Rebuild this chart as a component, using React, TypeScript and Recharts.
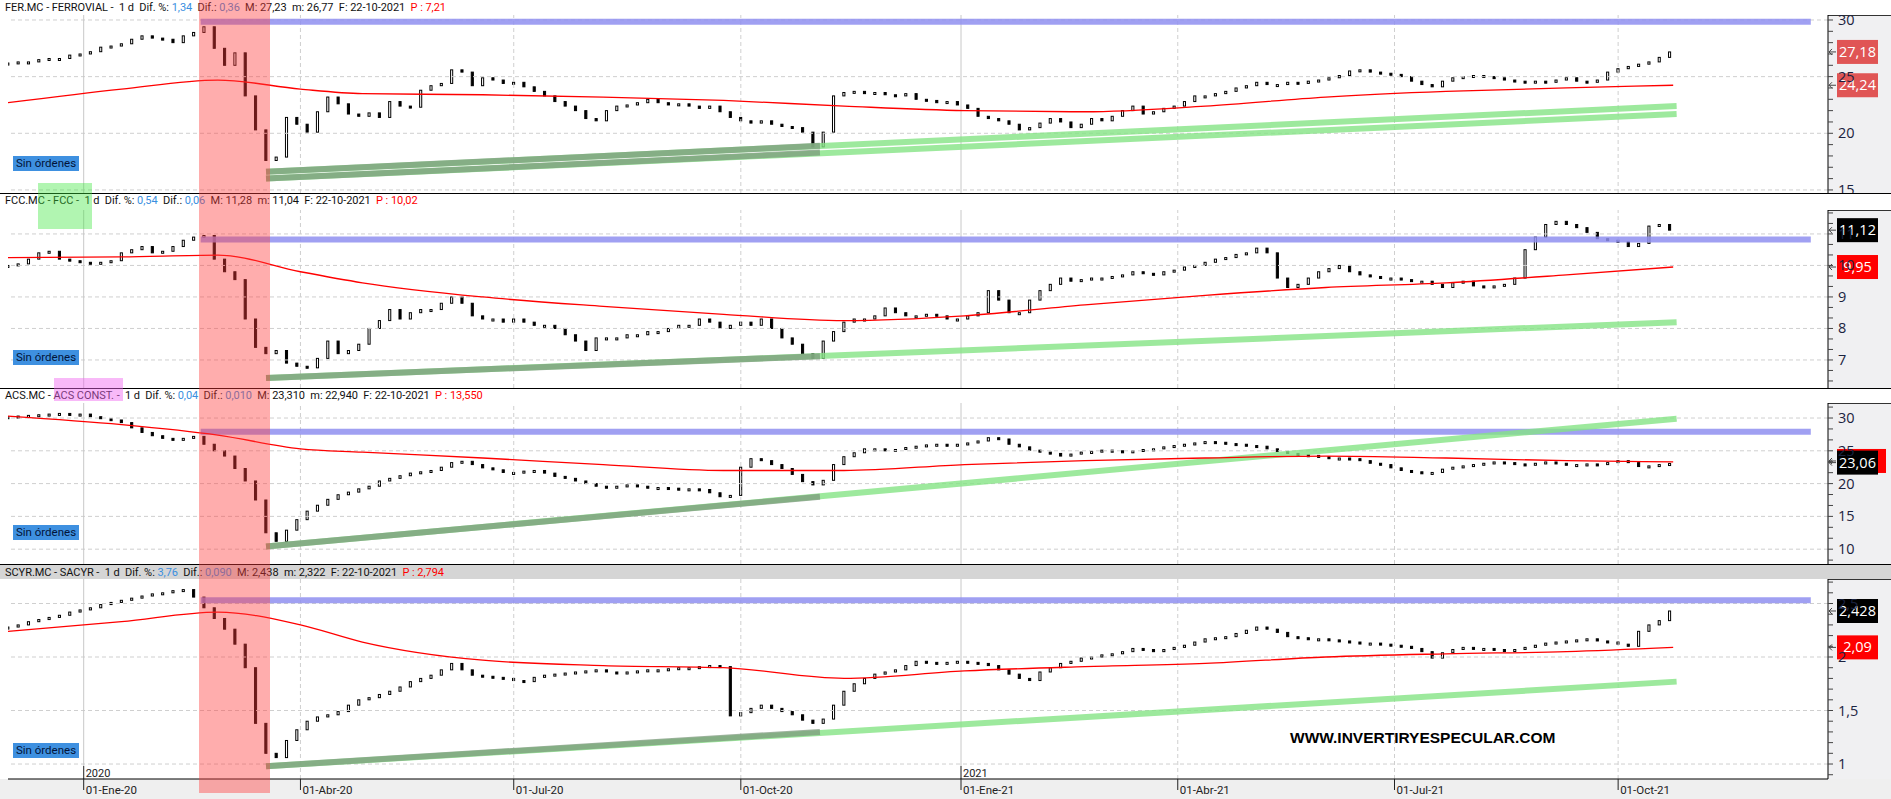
import React from "react";
import { Bar, ComposedChart, Line, ReferenceLine, XAxis, YAxis } from "recharts";

const CHART_W = 1891;
const PLOT_LEFT = 8;
const AXIS_W = 63;
const X_MAX = 529; // sessions shown on the x axis (incl. empty space on the right)
const PX_PER_DAY = (CHART_W - PLOT_LEFT - AXIS_W) / X_MAX;
const STEP = 3; // one candle every 3 sessions

const QUARTER_DAYS = [22, 85, 147, 213, 277, 340, 403, 468];
const QUARTER_LABELS = ["01-Ene-20", "01-Abr-20", "01-Jul-20", "01-Oct-20", "01-Ene-21", "01-Abr-21", "01-Jul-21", "01-Oct-21"];
const YEAR_DAYS = [22, 277];
const YEAR_LABELS = ["2020", "2021"];
const CRASH_DAYS = [55.5, 76.2];
const RESIST_DAYS = [56, 524];
const MA_DAYS = [0, 33, 61, 85, 103, 138, 173, 208, 243, 278, 313, 348, 383, 418, 453, 484];
const DATE = "22-10-2021";

const FER_CLOSE = [
  26.2, 26.3, 26.3, 26.5, 26.6, 26.6, 26.9, 27.0, 27.2, 27.6,
  27.7, 27.9, 28.3, 28.6, 28.4, 28.3, 28.0, 28.6, 28.9, 29.4,
  27.5, 26.0, 27.1, 23.3, 20.3, 17.6, 17.9, 21.4, 20.8, 20.1,
  21.9, 23.2, 22.6, 21.7, 21.5, 21.8, 21.4, 22.8, 22.4, 22.3,
  23.8, 24.2, 24.4, 25.6, 25.4, 24.2, 24.9, 24.7, 24.4, 24.5,
  24.1, 23.7, 23.3, 22.8, 22.4, 22.0, 21.3, 21.1, 22.0, 22.4,
  22.5, 22.7, 23.0, 22.7, 22.5, 22.6, 22.4, 22.2, 22.4, 21.9,
  21.4, 21.1, 20.9, 21.1, 20.8, 20.6, 20.5, 20.1, 18.8, 20.1,
  23.3, 23.6, 23.7, 23.5, 23.6, 23.4, 23.3, 23.5, 23.0, 22.9,
  22.7, 22.8, 22.5, 22.2, 21.5, 21.3, 21.1, 20.8, 20.3, 20.5,
  20.9, 21.3, 21.0, 20.5, 20.8, 21.3, 21.1, 21.5, 22.0, 22.4,
  21.7, 21.9, 22.2, 22.4, 22.8, 23.3, 23.3, 23.5, 23.7, 24.0,
  24.2, 24.5, 24.3, 24.3, 24.5, 24.4, 24.6, 24.7, 24.9, 25.1,
  25.5, 25.6, 25.4, 25.3, 25.2, 25.0, 24.6, 24.3, 24.1, 24.6,
  24.9, 25.0, 25.1, 25.0, 24.9, 24.7, 24.6, 24.5, 24.6, 24.5,
  24.7, 24.9, 24.6, 24.5, 24.7, 25.4, 25.7, 25.9, 26.1, 26.3,
  26.7, 27.18,
];
const FER_MA = [22.7, 23.9, 24.7, 23.9, 23.5, 23.4, 23.2, 22.9, 22.4, 22.0, 21.9, 22.4, 23.2, 23.7, 24.0, 24.24];

const FCC_CLOSE = [
  10.0, 10.05, 10.2, 10.4, 10.45, 10.2, 10.15, 10.1, 10.05, 10.1,
  10.15, 10.4, 10.5, 10.6, 10.4, 10.45, 10.6, 10.8, 10.9, 10.95,
  10.2, 9.8, 9.55, 8.3, 7.4, 7.2, 7.3, 6.9, 6.8, 6.75,
  7.05, 7.6, 7.2, 7.3, 7.5, 8.0, 8.25, 8.6, 8.3, 8.5,
  8.6, 8.6, 8.8, 9.0, 8.8, 8.4, 8.3, 8.3, 8.2, 8.3,
  8.2, 8.1, 8.1, 8.0, 7.8, 7.6, 7.3, 7.7, 7.7, 7.7,
  7.8, 7.8, 7.9, 7.9, 8.0, 8.1, 8.1, 8.3, 8.2, 8.0,
  8.1, 8.2, 8.1, 8.3, 8.0, 7.7, 7.5, 7.2, 7.05, 7.6,
  7.9, 8.2, 8.3, 8.3, 8.4, 8.65, 8.5, 8.4, 8.4, 8.45,
  8.4, 8.3, 8.3, 8.4, 8.5, 9.2, 8.9, 8.5, 8.5, 8.9,
  9.2, 9.4, 9.6, 9.5, 9.55, 9.6, 9.6, 9.65, 9.7, 9.8,
  9.75, 9.7, 9.8, 9.85, 9.95, 10.0, 10.1, 10.2, 10.25, 10.35,
  10.4, 10.55, 10.4, 9.6, 9.3, 9.4, 9.6, 9.8, 9.9, 10.0,
  9.8, 9.7, 9.65, 9.6, 9.6, 9.55, 9.5, 9.5, 9.4, 9.3,
  9.45, 9.5, 9.35, 9.3, 9.35, 9.4, 9.6, 10.5, 10.9, 11.3,
  11.4, 11.3, 11.2, 11.05, 10.85, 10.8, 10.75, 10.6, 10.7, 11.25,
  11.3, 11.12,
];
const FCC_MA = [10.25, 10.27, 10.33, 9.8, 9.45, 9.0, 8.7, 8.45, 8.25, 8.4, 8.75, 9.05, 9.3, 9.45, 9.7, 9.95];

const ACS_CLOSE = [
  30.2, 30.3, 30.4, 30.5, 30.6, 30.7, 30.5, 30.6, 30.2, 29.9,
  29.7, 29.3, 28.5, 27.8, 27.3, 26.9, 26.6, 26.9, 27.2, 26.0,
  25.0, 24.2, 22.3, 20.4, 17.5, 12.5, 11.2, 12.9, 14.5, 15.8,
  16.7, 17.6, 18.3, 18.7, 19.2, 19.6, 20.4, 20.8, 21.2, 21.6,
  21.8, 22.0, 22.5, 23.2, 23.4, 22.9, 22.4, 22.1, 21.7, 21.7,
  21.9, 22.0, 21.6, 21.1, 20.8, 20.4, 20.0, 19.6, 19.3, 19.6,
  19.8, 19.6, 19.3, 19.4, 19.3, 19.2, 19.2, 19.1, 18.6, 18.0,
  18.2, 22.5, 23.8, 23.5, 22.9, 22.3, 21.4, 20.3, 19.8, 20.5,
  22.9, 24.1, 24.7, 25.3, 25.3, 25.1, 25.2, 25.5, 25.7, 25.9,
  26.0, 25.9, 26.0, 26.2, 26.5, 27.0, 26.8, 26.0, 25.6, 25.1,
  24.8, 24.6, 24.2, 24.5, 24.8, 24.9, 25.1, 25.0, 24.8, 25.0,
  25.2, 25.3, 25.6, 25.8, 26.0, 26.2, 26.4, 26.3, 26.1, 26.0,
  25.8, 25.7, 25.3, 24.9, 24.6, 24.4, 24.3, 24.1, 23.9, 23.9,
  23.8, 23.5, 23.1, 22.9, 22.4, 22.0, 21.8, 21.5, 21.7, 22.2,
  22.5, 22.7, 22.9, 23.1, 23.3, 23.2, 23.0, 22.9, 23.1, 23.3,
  23.1, 22.9, 22.9, 23.0, 22.9, 23.2, 23.5, 23.2, 22.6, 22.7,
  22.9, 23.06,
];
const ACS_MA = [30.3, 29.0, 27.4, 25.3, 24.8, 23.9, 22.9, 22.0, 22.0, 22.9, 23.5, 23.9, 24.2, 23.9, 23.5, 23.3];

const SCYR_CLOSE = [
  2.28, 2.3, 2.33, 2.35, 2.37, 2.39, 2.42, 2.44, 2.46, 2.49,
  2.51, 2.53, 2.55, 2.57, 2.59, 2.6, 2.62, 2.63, 2.56, 2.46,
  2.36, 2.26, 2.12, 1.9, 1.38, 1.1, 1.06, 1.22, 1.32, 1.4,
  1.44, 1.46, 1.49, 1.55, 1.6, 1.62, 1.65, 1.68, 1.72, 1.77,
  1.8, 1.83, 1.88, 1.94, 1.88, 1.83, 1.82, 1.81, 1.8, 1.78,
  1.77, 1.81, 1.83, 1.84, 1.85, 1.86, 1.87, 1.88, 1.86, 1.85,
  1.86, 1.87, 1.88, 1.88, 1.89, 1.9, 1.9, 1.91, 1.92, 1.91,
  1.45, 1.48, 1.52, 1.55, 1.52, 1.49, 1.46, 1.41, 1.38, 1.42,
  1.55, 1.68, 1.75, 1.8, 1.84, 1.86, 1.88, 1.92, 1.96, 1.95,
  1.94, 1.95, 1.96, 1.95, 1.94, 1.92, 1.88, 1.84, 1.8, 1.78,
  1.86, 1.9, 1.94, 1.96, 1.99, 2.0, 2.02, 2.03, 2.05, 2.08,
  2.07, 2.05, 2.07, 2.09, 2.11, 2.14, 2.17, 2.18, 2.19, 2.22,
  2.25, 2.28, 2.26, 2.23, 2.19, 2.18, 2.17, 2.17, 2.16, 2.15,
  2.14, 2.13, 2.13, 2.12, 2.11, 2.1, 2.08, 2.05, 1.99, 2.04,
  2.07, 2.09, 2.08, 2.08, 2.07, 2.06, 2.07, 2.09, 2.11, 2.13,
  2.14, 2.15, 2.16, 2.17, 2.15, 2.14, 2.12, 2.1, 2.24, 2.3,
  2.34, 2.43,
];
const SCYR_MA = [2.24, 2.33, 2.42, 2.3, 2.14, 1.97, 1.92, 1.9, 1.8, 1.87, 1.91, 1.94, 2.0, 2.03, 2.05, 2.09];

// trend lines: first low, second low, right end
const FER_TREND_A = [16.6, 18.9, 22.4];
const FER_TREND_B = [16.0, 18.3, 21.7];
const FCC_TREND = [6.43, 7.12, 8.2];
const ACS_TREND = [10.4, 18.0, 29.9];
const SCYR_TREND = [0.98, 1.3, 1.77];
const TREND_DAYS = [75, 236, 485];

type Tag = { v: number; text: string; bg: string; w?: number };

type PanelCfg = {
  ticker: string;
  name: string;
  difPct: string;
  dif: string;
  hi: string;
  lo: string;
  per: string;
  top: number;
  height: number;
  plotTop: number;
  greyHeader?: boolean;
  showX?: boolean;
  domain: [number, number];
  majors: number[];
  minorStep: number;
  closes: number[];
  ma: number[];
  resist: number;
  trends: number[][];
  tags: Tag[];
  sinTop: number;
};

const PANELS: PanelCfg[] = [
  {
    ticker: "FER.MC", name: "FERROVIAL", difPct: "1,34", dif: "0,36", hi: "27,23", lo: "26,77", per: "7,21",
    top: 0, height: 193, plotTop: 15, domain: [14.73, 30.44], majors: [15, 20, 25, 30], minorStep: 1,
    closes: FER_CLOSE, ma: FER_MA, resist: 29.85, trends: [FER_TREND_A, FER_TREND_B],
    tags: [
      { v: 27.18, text: "27,18", bg: "#e05555" },
      { v: 24.24, text: "24,24", bg: "#e05555" },
    ],
    sinTop: 156,
  },
  {
    ticker: "FCC.MC", name: "FCC", difPct: "0,54", dif: "0,06", hi: "11,28", lo: "11,04", per: "10,02",
    top: 193, height: 195, plotTop: 17, domain: [6.11, 11.76], majors: [6, 7, 8, 9, 10, 11], minorStep: 1 / 3,
    closes: FCC_CLOSE, ma: FCC_MA, resist: 10.82, trends: [FCC_TREND],
    tags: [
      { v: 11.12, text: "11,12", bg: "#000" },
      { v: 9.95, text: "9,95", bg: "#ff0000" },
    ],
    sinTop: 350,
  },
  {
    ticker: "ACS.MC", name: "ACS CONST.", difPct: "0,04", dif: "0,010", hi: "23,310", lo: "22,940", per: "13,550",
    top: 388, height: 176, plotTop: 15, domain: [7.74, 32.29], majors: [10, 15, 20, 25, 30], minorStep: 5 / 3,
    closes: ACS_CLOSE, ma: ACS_MA, resist: 27.9, trends: [ACS_TREND],
    tags: [
      { v: 23.45, text: "23,3", bg: "#ff0000", w: 49 },
      { v: 23.2, text: "23,06", bg: "#000" },
    ],
    sinTop: 525,
  },
  {
    ticker: "SCYR.MC", name: "SACYR", difPct: "3,76", dif: "0,090", hi: "2,438", lo: "2,322", per: "2,794",
    top: 564, height: 235, plotTop: 15, greyHeader: true, showX: true,
    domain: [0.86, 2.729], majors: [1, 1.5, 2, 2.5], minorStep: 0.1,
    closes: SCYR_CLOSE, ma: SCYR_MA, resist: 2.53, trends: [SCYR_TREND],
    tags: [
      { v: 2.43, text: "2,428", bg: "#000" },
      { v: 2.09, text: "2,09", bg: "#ff0000" },
    ],
    sinTop: 743,
  },
];

const fmtNum = (v: number) => String(+v.toFixed(2)).replace(".", ",");

function buildCandles(closes: number[]) {
  return closes.map((c, i) => {
    const o = i === 0 ? c : closes[i - 1];
    return { x: i * STEP, open: o, close: c, range: [Math.min(o, c), Math.max(o, c)] };
  });
}

function axisTicks(domain: [number, number], majors: number[], step: number) {
  const out: number[] = [];
  const start = Math.floor(majors[0] / step) * step - step * 3;
  for (let v = start; v <= domain[1] + 1e-9; v += step) {
    if (v >= domain[0]) out.push(+v.toFixed(4));
  }
  return out;
}

function Candle(props: any) {
  const { x, y, width, height, payload } = props;
  if (x == null || y == null || !payload) return null;
  const top = height < 0 ? y + height : y;
  const h = Math.max(Math.abs(height || 0), 2);
  const up = payload.close >= payload.open;
  return (
    <rect
      x={x + 0.5}
      y={top}
      width={Math.max(width - 1, 1)}
      height={h}
      fill={up ? "#ffffff" : "#000000"}
      stroke="#000"
      strokeWidth={1}
    />
  );
}

function makePriceTick(majors: number[]) {
  return (props: any) => {
    const { x, y, payload } = props;
    const v = payload.value;
    const isMajor = majors.some((m) => Math.abs(m - v) < 1e-6);
    return (
      <g>
        <line x1={x} x2={x + 5} y1={y} y2={y} stroke="#444" />
        {isMajor && (
          <text x={x + 10} y={y + 5} fontSize={14.5} fill="#1b2340" fontFamily="'Open Sans', sans-serif">
            {fmtNum(v)}
          </text>
        )}
      </g>
    );
  };
}

function DateTick(props: any) {
  const { x, y, payload } = props;
  const i = QUARTER_DAYS.indexOf(payload.value);
  return (
    <g>
      <line x1={x} x2={x} y1={y} y2={y + 11} stroke="#222" />
      <text x={x + 2} y={y + 15} fontSize={11.5} fill="#222" fontFamily="Roboto, sans-serif">
        {QUARTER_LABELS[i]}
      </text>
    </g>
  );
}

function makeTag(tag: Tag) {
  return (props: any) => {
    const vb = props.viewBox || {};
    const ax = vb.x + vb.width;
    const y = vb.y;
    const w = tag.w ?? 41;
    return (
      <g>
        <path d={`M${ax + 1},${y} L${ax + 8},${y} M${ax + 1},${y} L${ax + 4},${y - 3} M${ax + 1},${y} L${ax + 4},${y + 3}`} stroke="#444" fill="none" />
        <rect x={ax + 9} y={y - 12} width={w} height={24} fill={tag.bg} />
        <text x={ax + 9 + 20.5} y={y + 5} textAnchor="middle" fontSize={14.5} fill="#fff" fontFamily="'Open Sans', sans-serif">
          {tag.text}
        </text>
      </g>
    );
  };
}

function YearLabel(props: any) {
  const vb = props.viewBox || {};
  const bottom = vb.y + vb.height;
  const text = YEAR_LABELS[YEAR_DAYS.indexOf(props.day)];
  return (
    <g>
      <line x1={vb.x} x2={vb.x} y1={bottom - 13} y2={bottom} stroke="#333" />
      <text x={vb.x + 2} y={bottom - 2} fontSize={11} fill="#222" fontFamily="Roboto, sans-serif">
        {text}
      </text>
    </g>
  );
}

function Header({ p }: { p: PanelCfg }) {
  return (
    <div
      style={{
        position: "absolute",
        left: 0,
        top: p.top + 1,
        width: CHART_W,
        height: p.plotTop - 1,
        background: p.greyHeader ? "#d5d5d5" : "transparent",
      }}
    >
      <div
        style={{
          position: "absolute",
          left: 5,
          top: p.greyHeader ? 1 : 0,
          font: "11px Roboto, sans-serif",
          letterSpacing: "-0.05px",
          color: "#111",
          whiteSpace: "pre",
          lineHeight: "14px",
        }}
      >
        {`${p.ticker} - ${p.name} -  1 d  Dif. %: `}
        <span style={{ color: "#3a8fe0" }}>{p.difPct}</span>
        {"  Dif.: "}
        <span style={{ color: "#3a8fe0" }}>{p.dif}</span>
        {`  M: ${p.hi}  m: ${p.lo}  F: ${DATE}  `}
        <span style={{ color: "#ff0000" }}>{`P : ${p.per}`}</span>
      </div>
    </div>
  );
}

function StockPanel({ p }: { p: PanelCfg }) {
  const candles = buildCandles(p.closes);
  const ma = MA_DAYS.map((x, i) => ({ x, v: p.ma[i] }));
  const ticks = axisTicks(p.domain, p.majors, p.minorStep);
  const xAxisH = p.showX ? 20 : 0;
  const plotH = p.height - p.plotTop - xAxisH;

  return (
    <>
      <div
        style={{
          position: "absolute",
          left: CHART_W - AXIS_W,
          top: p.top + p.plotTop,
          width: AXIS_W,
          height: plotH,
          background: "#f0f0f2",
          borderTop: "1px solid #333",
          boxSizing: "border-box",
        }}
      />
      {p.showX && (
        <div style={{ position: "absolute", left: 0, top: p.top + p.height - xAxisH, width: CHART_W, height: xAxisH, background: "#efefef" }} />
      )}
      <Header p={p} />
      {p.top > 0 && <div style={{ position: "absolute", left: 0, top: p.top, width: CHART_W, height: 1, background: "#000" }} />}
      <div style={{ position: "absolute", left: 0, top: p.top, width: CHART_W, height: p.height }}>
        <ComposedChart
          width={CHART_W}
          height={p.height}
          data={candles}
          margin={{ top: p.plotTop, right: 0, bottom: 0, left: PLOT_LEFT }}
        >
          <XAxis
            type="number"
            dataKey="x"
            domain={[0, X_MAX]}
            allowDataOverflow
            hide={!p.showX}
            height={xAxisH}
            ticks={QUARTER_DAYS}
            interval={0}
            tick={DateTick}
            tickLine={false}
            tickSize={0}
            tickMargin={0}
            axisLine={{ stroke: "#000" }}
          />
          <YAxis
            orientation="right"
            width={AXIS_W}
            domain={p.domain}
            allowDataOverflow
            ticks={ticks}
            interval={0}
            tick={makePriceTick(p.majors)}
            tickLine={false}
            tickSize={0}
            tickMargin={0}
            axisLine={{ stroke: "#000" }}
          />
          {p.majors.map((m) => (
            <ReferenceLine key={`h${m}`} y={m} stroke="#cfcfcf" strokeDasharray="4 3" />
          ))}
          {QUARTER_DAYS.filter((d) => !YEAR_DAYS.includes(d)).map((d) => (
            <ReferenceLine key={`q${d}`} x={d} stroke="#cfcfcf" strokeDasharray="4 3" />
          ))}
          {YEAR_DAYS.map((d) => (
            <ReferenceLine
              key={`y${d}`}
              x={d}
              stroke="#c8c8c8"
              label={p.showX ? (lp: any) => <YearLabel {...lp} day={d} /> : undefined}
            />
          ))}
          <Line
            data={[{ x: RESIST_DAYS[0], v: p.resist }, { x: RESIST_DAYS[1], v: p.resist }]}
            dataKey="v"
            stroke="#8f8ff0"
            strokeOpacity={0.85}
            strokeWidth={6}
            dot={false}
            activeDot={false}
            isAnimationActive={false}
          />
          {p.trends.map((t, i) => (
            <Line
              key={`tl${i}`}
              data={[{ x: TREND_DAYS[0], v: t[0] }, { x: TREND_DAYS[2], v: t[2] }]}
              dataKey="v"
              stroke="#84e484"
              strokeOpacity={0.8}
              strokeWidth={6}
              dot={false}
              activeDot={false}
              isAnimationActive={false}
            />
          ))}
          {p.trends.map((t, i) => (
            <Line
              key={`td${i}`}
              data={[{ x: TREND_DAYS[0], v: t[0] }, { x: TREND_DAYS[1], v: t[1] }]}
              dataKey="v"
              stroke="#7d9a7d"
              strokeOpacity={0.75}
              strokeWidth={6}
              dot={false}
              activeDot={false}
              isAnimationActive={false}
            />
          ))}
          <Line
            data={ma}
            dataKey="v"
            type="monotone"
            stroke="#ff0000"
            strokeWidth={1.3}
            dot={false}
            activeDot={false}
            isAnimationActive={false}
          />
          <Bar dataKey="range" barSize={8} shape={Candle} isAnimationActive={false} />
          {p.tags.map((t, i) => (
            <ReferenceLine key={`tag${i}`} y={t.v} stroke="none" label={makeTag(t)} />
          ))}
        </ComposedChart>
      </div>
      <div
        style={{
          position: "absolute",
          left: 13,
          top: p.sinTop,
          width: 66,
          height: 15,
          background: "#3e90e0",
          color: "#02143a",
          font: "11.5px Roboto, sans-serif",
          lineHeight: "15px",
          textAlign: "center",
        }}
      >
        Sin órdenes
      </div>
    </>
  );
}

export default function App() {
  const bandLeft = PLOT_LEFT + CRASH_DAYS[0] * PX_PER_DAY;
  const bandW = (CRASH_DAYS[1] - CRASH_DAYS[0]) * PX_PER_DAY;
  return (
    <div style={{ position: "absolute", left: 0, top: 0, width: CHART_W, height: 799, background: "#fff", overflow: "hidden" }}>
      {PANELS.map((p) => (
        <StockPanel key={p.ticker} p={p} />
      ))}
      <div style={{ position: "absolute", left: 1290, top: 729, font: "bold 15.5px 'Liberation Sans', Arial, sans-serif", color: "#000" }}>
        WWW.INVERTIRYESPECULAR.COM
      </div>
      <div style={{ position: "absolute", left: 38, top: 183, width: 54, height: 46, background: "rgba(60,230,60,0.4)" }} />
      <div style={{ position: "absolute", left: 54, top: 378, width: 69, height: 23, background: "rgba(240,100,240,0.45)" }} />
      <div
        style={{
          position: "absolute",
          left: bandLeft,
          top: 0,
          width: bandW,
          height: 793,
          background: "rgba(255,60,60,0.42)",
          pointerEvents: "none",
        }}
      />
    </div>
  );
}
